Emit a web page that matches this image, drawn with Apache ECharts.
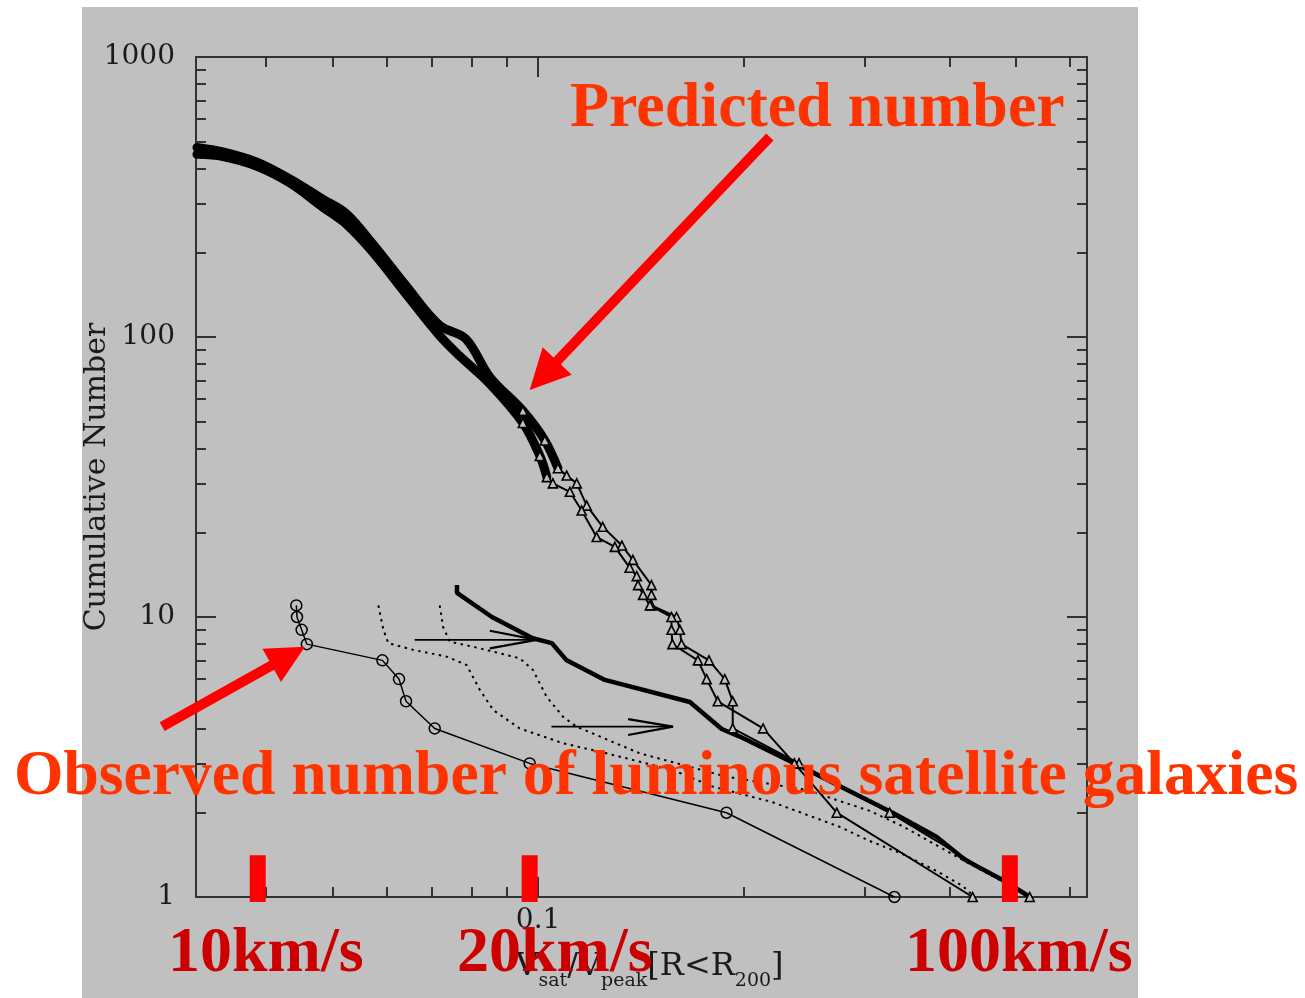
<!DOCTYPE html>
<html><head><meta charset="utf-8">
<script src="https://cdn.jsdelivr.net/npm/echarts@6/dist/echarts.min.js"></script>
<style>html,body{margin:0;padding:0;background:#fff}#c{width:1305px;height:998px}</style>
</head><body><div id="c"></div>
<script>
// ---------- data (x = Vsat/Vpeak, y = cumulative number) ----------
const obsX = [0.0443, 0.0444, 0.0451, 0.0459, 0.0592, 0.0626, 0.0641, 0.0706, 0.0972, 0.1886, 0.332];
const obsY = [11, 10, 9, 8, 7, 6, 5, 4, 3, 2, 1];

const simAX = [0.0317, 0.0346, 0.0388, 0.0434, 0.0484, 0.0525, 0.0573, 0.0643, 0.0718, 0.0784, 0.0850, 0.0950, 0.1023, 0.1069, 0.1101, 0.1139, 0.1178, 0.1243, 0.1326, 0.1376, 0.1465, 0.1465, 0.1465, 0.1594, 0.1612, 0.1621, 0.1778, 0.1875, 0.1926, 0.1926, 0.2408, 0.3267, 0.5236];
const simAY = [475, 458, 421, 366, 311, 275, 215, 151, 110, 98.5, 72, 54.5, 42.7, 34, 32, 30, 25, 21, 18, 16, 13, 12, 11, 10, 9, 8, 7, 6, 5, 4, 3, 2, 1];

const simBX = [0.0317, 0.0346, 0.0388, 0.0434, 0.0484, 0.0525, 0.0573, 0.0643, 0.0718, 0.0768, 0.0850, 0.0950, 0.1006, 0.1030, 0.1051, 0.1113, 0.1158, 0.1218, 0.1295, 0.1361, 0.1394, 0.1400, 0.1424, 0.1457, 0.1567, 0.1567, 0.1572, 0.1713, 0.1764, 0.1831, 0.2133, 0.2370, 0.2734, 0.4320];
const simBY = [449, 441, 407, 354, 291, 252, 201, 141, 101, 85.5, 68, 49.3, 37.6, 31.6, 30, 28, 24, 19.3, 17.8, 15, 14, 13, 12, 11, 10, 9, 8, 7, 6, 5, 4, 3, 2, 1];

const thickX = [0.0761, 0.0761, 0.0856, 0.0982, 0.1047, 0.1101, 0.1252, 0.1667, 0.1856, 0.1972, 0.2373, 0.330, 0.3825, 0.4205, 0.478, 0.524];
const thickY = [13.0, 12.2, 10.0, 8.4, 8.07, 7.0, 5.96, 4.97, 3.98, 3.74, 3.0, 2.0, 1.64, 1.36, 1.15, 1.0];

const dotAX = [0.0584, 0.0594, 0.0604, 0.0657, 0.0735, 0.0786, 0.0822, 0.0860, 0.0940, 0.1088, 0.1259, 0.1574, 0.1800, 0.2203, 0.2762, 0.3055, 0.3413, 0.3828, 0.4177, 0.435];
const dotAY = [11.0, 9.0, 8.06, 7.63, 7.22, 6.74, 5.49, 4.65, 4.0, 3.54, 3.26, 2.84, 2.48, 2.18, 1.78, 1.585, 1.424, 1.238, 1.095, 1.0];

const dotBX = [0.0718, 0.0726, 0.0743, 0.0822, 0.0940, 0.0983, 0.1029, 0.1088, 0.1138, 0.1408, 0.1886, 0.2469, 0.3055, 0.3413, 0.3828, 0.4177, 0.4732, 0.5147];
const dotBY = [11.0, 9.23, 8.16, 7.73, 7.12, 6.47, 5.19, 4.40, 4.06, 3.26, 2.69, 2.41, 2.03, 1.79, 1.53, 1.356, 1.15, 1.02];

// black annotation arrows (data units)
const arrow1X = [0.0660, 0.0995]; const arrow1Y = [8.28, 8.28];
const arrow1HeadX = [0.0850, 0.0995, 0.0850]; const arrow1HeadY = [8.93, 8.28, 7.73];
const arrow2X = [0.1046, 0.1575]; const arrow2Y = [4.06, 4.06];
const arrow2HeadX = [0.1354, 0.1575, 0.1354]; const arrow2HeadY = [4.32, 4.06, 3.79];

// red slide annotations (data units)
const predArrowX = [0.2182, 0.0972]; const predArrowY = [518, 64.7];
const obsArrowX = [0.0282, 0.0456]; const obsArrowY = [4.06, 7.83];
const redBarX = [0.0389, 0.0972, 0.4897]; const redBarY = [0.96, 1.41];

// axes
const xRange = [0.0316, 0.635];
const yRange = [1, 1000];
const xMajorTicks = [0.1];
const xMinorTicks = [0.04, 0.05, 0.06, 0.07, 0.08, 0.09, 0.2, 0.3, 0.4, 0.5, 0.6];
const xTickLabels = ['0.1'];
const yMajorTicks = [1, 10, 100, 1000];
const yMinorTicks = [2,3,4,5,6,7,8,9,20,30,40,50,60,70,80,90,200,300,400,500,600,700,800,900];
const yTickLabels = ['1', '10', '100', '1000'];

// ---------- chart ----------
const LOG = Math.log10;
const pts = (xs, ys) => xs.map((x, i) => [LOG(x), LOG(ys[i])]);
const AX = '#333';
const SERIF = '"DejaVu Serif", serif';

function labelFor(ticks, labels) {
  return v => { for (let i = 0; i < ticks.length; i++) if (Math.abs(LOG(ticks[i]) - v) < 1e-6) return labels[i]; return ''; };
}
function xAx(pos, ticks, len, line, labels, extra) {
  return Object.assign({
    type: 'value', position: pos, min: LOG(xRange[0]), max: LOG(xRange[1]),
    axisLine: { show: line, onZero: false, lineStyle: { color: AX, width: 2 } },
    axisTick: { show: true, inside: true, length: len, customValues: ticks.map(LOG), lineStyle: { color: AX, width: 2 } },
    axisLabel: labels ? { show: true, customValues: xMajorTicks.map(LOG), formatter: labelFor(xMajorTicks, xTickLabels), fontFamily: SERIF, fontSize: 28, color: '#1a1a1a', margin: 10 } : { show: false },
    splitLine: { show: false }
  }, extra || {});
}
function yAx(pos, ticks, len, line, labels, extra) {
  return Object.assign({
    type: 'value', position: pos, min: LOG(yRange[0]), max: LOG(yRange[1]),
    axisLine: { show: line, onZero: false, lineStyle: { color: AX, width: 2 } },
    axisTick: { show: true, inside: true, length: len, customValues: ticks.map(LOG), lineStyle: { color: AX, width: 2 } },
    axisLabel: labels ? { show: true, customValues: yMajorTicks.map(LOG), formatter: labelFor(yMajorTicks, yTickLabels), fontFamily: SERIF, fontSize: 28, color: '#1a1a1a', margin: 21 } : { show: false },
    splitLine: { show: false }
  }, extra || {});
}

const simA = pts(simAX, simAY), simB = pts(simBX, simBY);
const bandA = simA.filter(p => p[1] >= LOG(33)), bandB = simB.filter(p => p[1] >= LOG(31));
const triA = simA.filter(p => p[1] <= LOG(60)), triB = simB.filter(p => p[1] <= LOG(55));

const base = { type: 'line', xAxisIndex: 0, yAxisIndex: 0, animation: false, silent: true, z: 3 };
const band = d => Object.assign({}, base, { data: d, symbol: 'none', smooth: 0.35, lineStyle: { color: '#000', width: 9, join: 'round', cap: 'round' } });
const tri = d => Object.assign({}, base, { data: d, symbol: 'triangle', symbolSize: 9, showAllSymbol: true,
  itemStyle: { color: '#c0c0c0', borderColor: '#000', borderWidth: 1.6 }, lineStyle: { color: '#000', width: 2 } });
const plain = (d, w, type) => Object.assign({}, base, { data: d, symbol: 'none', lineStyle: { color: '#000', width: w, type: type || 'solid' } });

const option = {
  backgroundColor: 'transparent',
  animation: false,
  grid: { left: 196, top: 57, width: 891, height: 840, containLabel: false },
  xAxis: [
    xAx('bottom', xMajorTicks, 20, true, true, {
      name: '{v|V}{s|sat}{v|/V}{s|peak}{v|[R<R}{s|200}{v|]}', nameLocation: 'middle', nameGap: 54,
      nameTextStyle: { padding: [0, 0, 0, 16], rich: { v: { fontFamily: SERIF, fontSize: 32, color: '#1a1a1a', verticalAlign: 'top', lineHeight: 36 }, s: { fontFamily: SERIF, fontSize: 19, color: '#1a1a1a', padding: [24, 0, 0, 0], lineHeight: 36 } } }
    }),
    xAx('bottom', xMinorTicks, 10, false, false),
    xAx('top', xMajorTicks, 20, true, false),
    xAx('top', xMinorTicks, 10, false, false)
  ],
  yAxis: [
    yAx('left', yMajorTicks, 20, true, true, {
      name: 'Cumulative Number', nameLocation: 'middle', nameGap: 84, nameMoveOverlap: false,
      nameTextStyle: { fontFamily: SERIF, fontSize: 30, color: '#1a1a1a' }
    }),
    yAx('left', yMinorTicks, 10, false, false),
    yAx('right', yMajorTicks, 20, true, false),
    yAx('right', yMinorTicks, 10, false, false)
  ],
  series: [
    band(bandA), band(bandB), tri(triA), tri(triB),
    plain(pts(thickX, thickY), 4.5),
    plain(pts(dotAX, dotAY), 2, [2.5, 4.5]),
    plain(pts(dotBX, dotBY), 2, [2.5, 4.5]),
    Object.assign({}, base, { data: pts(obsX, obsY), symbol: 'circle', symbolSize: 11, showAllSymbol: true,
      itemStyle: { color: 'rgba(0,0,0,0)', borderColor: '#000', borderWidth: 1.5 }, lineStyle: { color: '#000', width: 1.5 } }),
    plain(pts(arrow1X, arrow1Y), 1.8), plain(pts(arrow1HeadX, arrow1HeadY), 2.2),
    plain(pts(arrow2X, arrow2Y), 1.8), plain(pts(arrow2HeadX, arrow2HeadY), 2.2)
  ]
};

const chart = echarts.init(document.getElementById('c'), null, { renderer: 'canvas' });
chart.setOption(option);

// ---------- slide overlay: background, red labels and arrows ----------
const px = (x, y) => chart.convertToPixel({ gridIndex: 0 }, [LOG(x), LOG(y)]);
function redArrow(tail, tip, shaftW, headLen, headHalf) {
  const dx = tip[0] - tail[0], dy = tip[1] - tail[1], L = Math.hypot(dx, dy);
  const ux = dx / L, uy = dy / L, bx = tip[0] - ux * headLen, by = tip[1] - uy * headLen;
  const nx = -uy, ny = ux;
  return [
    { type: 'line', z: 100, silent: true, shape: { x1: tail[0], y1: tail[1], x2: bx + ux * 2, y2: by + uy * 2 }, style: { stroke: '#ff0000', lineWidth: shaftW } },
    { type: 'polygon', z: 100, silent: true, shape: { points: [tip, [bx + nx * headHalf, by + ny * headHalf], [bx - nx * headHalf, by - ny * headHalf]] }, style: { fill: '#ff0000' } }
  ];
}
const RED_FONT = 'bold 64px "Liberation Serif", "Times New Roman", serif';
const graphics = [
  { type: 'rect', z: -100, zlevel: 0, silent: true, shape: { x: 82, y: 7, width: 1056, height: 991 }, style: { fill: '#c0c0c0' } },
  { type: 'text', z: 100, silent: true, x: 570, y: 109, style: { text: 'Predicted number', font: RED_FONT, fill: '#ff3300', verticalAlign: 'middle' } },
  { type: 'text', z: 100, silent: true, x: 14, y: 778, style: { text: 'Observed number of luminous satellite galaxies', font: 'bold 63.6px "Liberation Serif", "Times New Roman", serif', fill: '#ff3300', verticalAlign: 'middle' } },
  { type: 'text', z: 100, silent: true, x: 168, y: 954, style: { text: '10km/s', font: RED_FONT, fill: '#cc0000', verticalAlign: 'middle' } },
  { type: 'text', z: 100, silent: true, x: 457, y: 954, style: { text: '20km/s', font: RED_FONT, fill: '#cc0000', verticalAlign: 'middle' } },
  { type: 'text', z: 100, silent: true, x: 905, y: 954, style: { text: '100km/s', font: RED_FONT, fill: '#cc0000', verticalAlign: 'middle' } }
];
redBarX.forEach(x => {
  const top = px(x, redBarY[1]), bot = px(x, redBarY[0]);
  graphics.push({ type: 'rect', z: 99, silent: true, shape: { x: top[0] - 8, y: top[1], width: 16, height: bot[1] - top[1] }, style: { fill: '#ff0000' } });
});
graphics.push(...redArrow(px(predArrowX[0], predArrowY[0]), px(predArrowX[1], predArrowY[1]), 10, 40, 20));
graphics.push(...redArrow(px(obsArrowX[0], obsArrowY[0]), px(obsArrowX[1], obsArrowY[1]), 10, 38, 19));
chart.setOption({ graphic: graphics });
</script>
</body></html>
